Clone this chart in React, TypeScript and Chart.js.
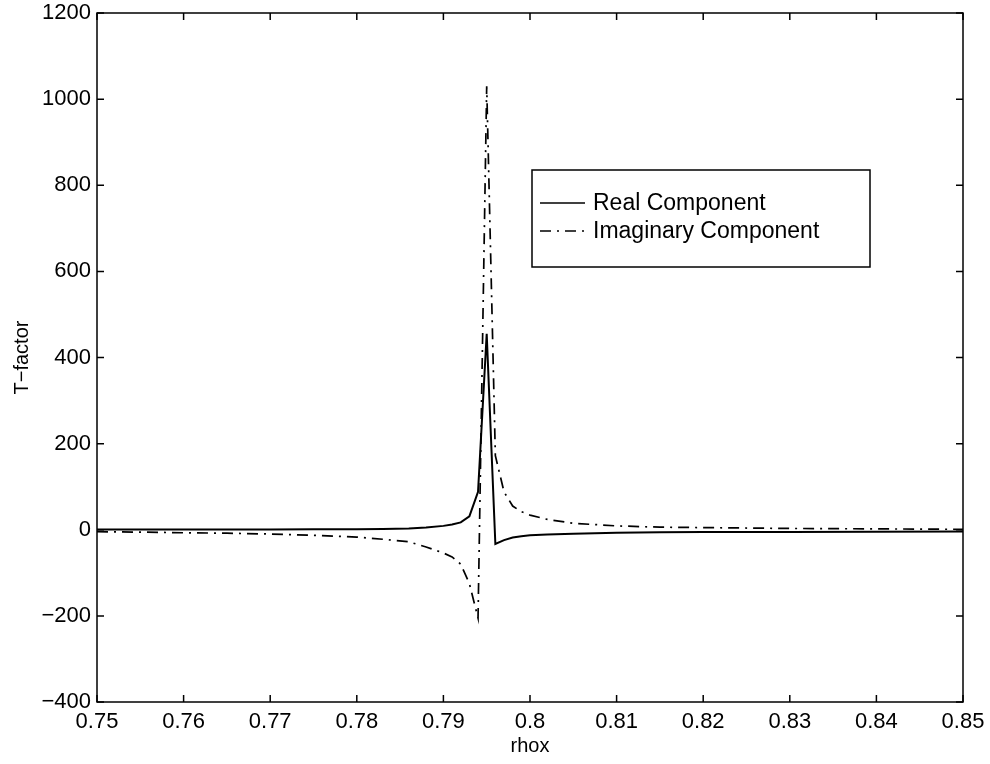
import React, { useEffect, useRef } from "react";
import { Chart, registerables } from "chart.js";

Chart.register(...registerables);

const rhox = [
  0.75, 0.755, 0.76, 0.765, 0.77, 0.775, 0.78, 0.783, 0.786, 0.788, 0.79, 0.791, 0.792, 0.793, 0.794,
  0.795, 0.796, 0.797, 0.798, 0.799, 0.8, 0.802, 0.805, 0.81, 0.815, 0.82, 0.83, 0.84, 0.85,
];
const realComponent = [
  0.3, 0.4, 0.5, 0.6, 0.8, 1.0, 1.3, 1.8, 3, 5, 9, 12, 17, 31, 88,
  455, -33, -24, -18, -15, -13, -11, -9, -7, -6, -5.5, -5, -4.5, -4,
];
const imaginaryComponent = [
  -4.5, -5.5, -7, -8, -10, -13, -17, -22, -28, -40, -54, -63, -80, -125, -205,
  1030, 172, 88, 55, 42, 34, 24, 15, 9, 6, 5, 3, 2, 1,
];
const xTickValues = [0.75, 0.76, 0.77, 0.78, 0.79, 0.8, 0.81, 0.82, 0.83, 0.84, 0.85];
const yTickValues = [-400, -200, 0, 200, 400, 600, 800, 1000, 1200];
const seriesLabels = ["Real Component", "Imaginary Component"];

const FONT = "'Liberation Sans', Arial, Helvetica, sans-serif";
const IMAG_DASH = [11, 6, 2, 6];

const boxTicksPlugin = {
  id: "boxTicks",
  afterDatasetsDraw(chart: any) {
    const { ctx, chartArea, scales } = chart;
    const { left, right, top, bottom } = chartArea;
    const len = 7;
    ctx.save();
    ctx.strokeStyle = "#000";
    ctx.lineWidth = 1.5;
    ctx.setLineDash([]);
    ctx.strokeRect(left, top, right - left, bottom - top);
    ctx.beginPath();
    xTickValues.forEach((v) => {
      const px = scales.x.getPixelForValue(v);
      ctx.moveTo(px, bottom);
      ctx.lineTo(px, bottom - len);
      ctx.moveTo(px, top);
      ctx.lineTo(px, top + len);
    });
    yTickValues.forEach((v) => {
      const py = scales.y.getPixelForValue(v);
      ctx.moveTo(left, py);
      ctx.lineTo(left + len, py);
      ctx.moveTo(right, py);
      ctx.lineTo(right - len, py);
    });
    ctx.stroke();
    ctx.restore();
  },
};

const legendPlugin = {
  id: "boxLegend",
  afterDraw(chart: any) {
    const { ctx, chartArea } = chart;
    const x0 = chartArea.left + 435;
    const y0 = chartArea.top + 157;
    const w = 338;
    const h = 97;
    ctx.save();
    ctx.fillStyle = "#fff";
    ctx.fillRect(x0, y0, w, h);
    ctx.strokeStyle = "#000";
    ctx.lineWidth = 1.5;
    ctx.setLineDash([]);
    ctx.strokeRect(x0, y0, w, h);
    const rows = [y0 + 33, y0 + 61];
    chart.data.datasets.forEach((ds: any, i: number) => {
      const ry = rows[i];
      ctx.beginPath();
      ctx.lineWidth = 1.6;
      ctx.setLineDash(ds.borderDash || []);
      ctx.moveTo(x0 + 8, ry);
      ctx.lineTo(x0 + 53, ry);
      ctx.stroke();
      ctx.setLineDash([]);
      ctx.fillStyle = "#000";
      ctx.font = `23px ${FONT}`;
      ctx.textBaseline = "middle";
      ctx.textAlign = "left";
      ctx.fillText(ds.label, x0 + 61, ry + 1);
    });
    ctx.restore();
  },
};

export default function App() {
  const canvasRef = useRef<HTMLCanvasElement | null>(null);

  useEffect(() => {
    const canvas = canvasRef.current;
    if (!canvas) return;
    const chart = new Chart(canvas, {
      type: "line",
      data: {
        datasets: [
          {
            label: seriesLabels[0],
            data: rhox.map((x, i) => ({ x, y: realComponent[i] })),
            borderColor: "#000",
            borderWidth: 2,
            pointRadius: 0,
            tension: 0,
            fill: false,
          },
          {
            label: seriesLabels[1],
            data: rhox.map((x, i) => ({ x, y: imaginaryComponent[i] })),
            borderColor: "#000",
            borderWidth: 1.7,
            borderDash: IMAG_DASH,
            pointRadius: 0,
            tension: 0,
            fill: false,
          },
        ],
      },
      options: {
        animation: false,
        responsive: false,
        maintainAspectRatio: false,
        devicePixelRatio: 1,
        layout: { padding: { left: 0, right: 27, top: 13, bottom: 0 } },
        plugins: {
          legend: { display: false },
          tooltip: { enabled: false },
        },
        scales: {
          x: {
            type: "linear",
            min: 0.75,
            max: 0.85,
            afterBuildTicks: (axis: any) => {
              axis.ticks = xTickValues.map((v) => ({ value: v }));
            },
            afterFit: (axis: any) => {
              axis.height = 62;
              axis.paddingLeft = 0;
              axis.paddingRight = 0;
            },
            grid: { display: false, drawTicks: false },
            border: { display: false },
            ticks: {
              color: "#000",
              font: { family: FONT, size: 22 },
              padding: 7,
              maxRotation: 0,
              autoSkip: false,
              callback: (v: any) => String(Number(Number(v).toFixed(2))),
            },
            title: {
              display: true,
              text: "rhox",
              color: "#000",
              font: { family: FONT, size: 20 },
              padding: { top: 0, bottom: 6 },
            },
          },
          y: {
            type: "linear",
            min: -400,
            max: 1200,
            afterBuildTicks: (axis: any) => {
              axis.ticks = yTickValues.map((v) => ({ value: v }));
            },
            afterFit: (axis: any) => {
              axis.width = 97;
              axis.paddingTop = 0;
              axis.paddingBottom = 0;
            },
            grid: { display: false, drawTicks: false },
            border: { display: false },
            ticks: {
              color: "#000",
              font: { family: FONT, size: 22 },
              padding: 6,
              autoSkip: false,
              callback: (v: any) => (Number(v) < 0 ? "\u2212" + Math.abs(Number(v)) : String(v)),
            },
            title: {
              display: true,
              text: "T\u2212factor",
              color: "#000",
              font: { family: FONT, size: 20 },
              padding: { top: 10, bottom: 0 },
            },
          },
        },
      },
      plugins: [boxTicksPlugin, legendPlugin],
    } as any);
    return () => chart.destroy();
  }, []);

  return (
    <div style={{ position: "absolute", left: 0, top: 0, width: 990, height: 764, background: "#fff" }}>
      <canvas ref={canvasRef} width={990} height={764} style={{ display: "block" }} />
    </div>
  );
}
